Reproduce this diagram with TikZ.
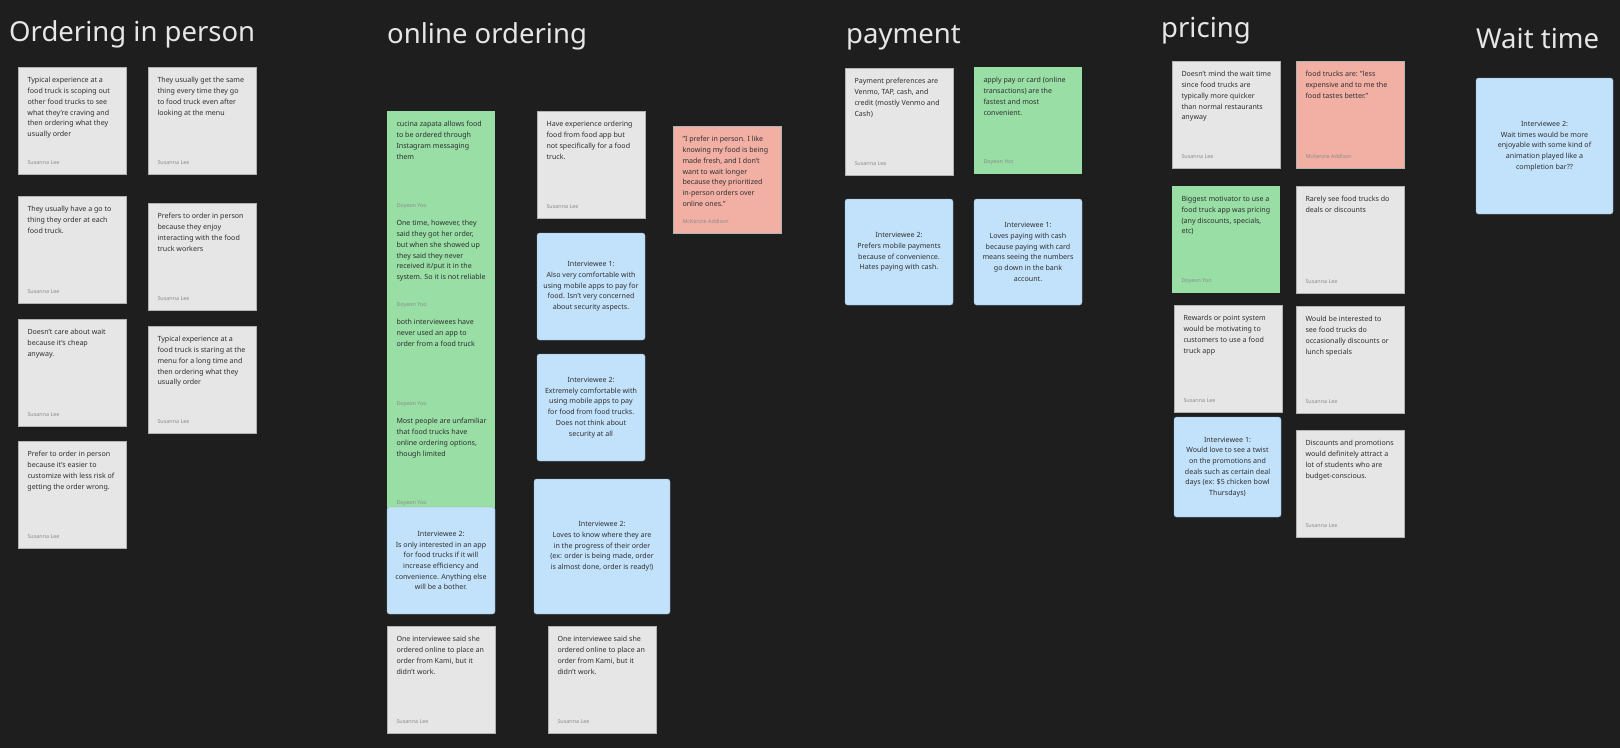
\documentclass[tikz,border=0pt]{standalone}
\usepackage{fontspec}
\setmainfont{Noto Sans}
\usetikzlibrary{positioning}

\definecolor{board}{HTML}{1E1E1E}
\definecolor{headgray}{HTML}{E6E6E6}
\definecolor{notegray}{HTML}{E6E6E6}
\definecolor{notegreen}{HTML}{98DEA5}
\definecolor{noteblue}{HTML}{C2E2FB}
\definecolor{notered}{HTML}{F2B0A5}
\definecolor{inktext}{HTML}{2E2E2E}
\definecolor{inkauthor}{HTML}{8C8C8C}

% body of a sticky note: text at the top, author at the bottom
\newcommand{\notetext}[2]{\parbox[c][107pt][t]{108pt}{\leftskip=9.5pt\rightskip=0pt plus 1fil\parindent=0pt
  \vspace*{10.5pt}#1\par\vfill{\color{inkauthor}\fontsize{5.4}{6}\selectfont #2\par}\vspace*{9.5pt}}}

\begin{document}
\begin{tikzpicture}[x=1pt,y=-1pt,
  note/.style={anchor=north west,inner sep=0pt,outer sep=0pt,text=inktext,font=\fontsize{7.1}{10.7}\selectfont},
  graynote/.style={note,fill=notegray,draw=black!30,line width=0.5pt},
  greennote/.style={note,fill=notegreen},
  rednote/.style={note,fill=notered,draw=black!30,line width=0.5pt},
  bluenote/.style={note,fill=noteblue,draw=noteblue!75!black,line width=0.4pt,rounded corners=2.5pt,
    align=center,minimum width=108pt,minimum height=107pt},
  heading/.style={anchor=base west,inner sep=0pt,text=headgray,font=\fontsize{27.5}{30}\selectfont}]
\fill [board] (0,0) rectangle (1620,748);

% headings
\node [heading] (hperson) at (9,41) {Ordering in person};
\node [heading] (honline) at (387,43) {online ordering};
\node [heading] (hpay) at (846,43) {payment};
\node [heading] (hprice) at (1161,37) {pricing};
\node [heading] (hwait) at (1476,48) {Wait time};

% ordering in person
\node [graynote] (o1) at (18,67) {\notetext{Typical experience at a\\food truck is scoping out\\other food trucks to see\\what they're craving and\\then ordering what they\\usually order}{Susanna Lee}};
\node [graynote] (o2) at (148,67) {\notetext{They usually get the same\\thing every time they go\\to food truck even after\\looking at the menu}{Susanna Lee}};
\node [graynote] (o3) at (18,196) {\notetext{They usually have a go to\\thing they order at each\\food truck.}{Susanna Lee}};
\node [graynote] (o4) at (148,203) {\notetext{Prefers to order in person\\because they enjoy\\interacting with the food\\truck workers}{Susanna Lee}};
\node [graynote] (o5) at (18,319) {\notetext{Doesn't care about wait\\because it's cheap\\anyway.}{Susanna Lee}};
\node [graynote] (o6) at (148,326) {\notetext{Typical experience at a\\food truck is staring at the\\menu for a long time and\\then ordering what they\\usually order}{Susanna Lee}};
\node [graynote] (o7) at (18,441) {\notetext{Prefer to order in person\\because it's easier to\\customize with less risk of\\getting the order wrong.}{Susanna Lee}};

% online ordering
\node [greennote] (n1) at (387,111) {\notetext{cucina zapata allows food\\to be ordered through\\Instagram messaging\\them}{Doyeon Yoo}};
\node [greennote] (n2) at (387,210) {\notetext{One time, however, they\\said they got her order,\\but when she showed up\\they said they never\\received it/put it in the\\system. So it is not reliable}{Doyeon Yoo}};
\node [greennote] (n3) at (387,309) {\notetext{both interviewees have\\never used an app to\\order from a food truck}{Doyeon Yoo}};
\node [greennote] (n4) at (387,408) {\notetext{Most people are unfamiliar\\that food trucks have\\online ordering options,\\though limited}{Doyeon Yoo}};
\node [bluenote] (n5) at (387,507) {Interviewee 2:\\Is only interested in an app\\for food trucks if it will\\increase efficiency and\\convenience. Anything else\\will be a bother.};
\node [graynote] (n6) at (537,111) {\notetext{Have experience ordering\\food from food app but\\not specifically for a food\\truck.}{Susanna Lee}};
\node [bluenote] (n7) at (537,233) {Interviewee 1:\\Also very comfortable with\\using mobile apps to pay for\\food. Isn't very concerned\\about security aspects.};
\node [bluenote] (n8) at (537,354) {Interviewee 2:\\Extremely comfortable with\\using mobile apps to pay\\for food from food trucks.\\Does not think about\\security at all};
\node [bluenote,minimum width=136pt,minimum height=135pt] (n9) at (534,479) {Interviewee 2:\\Loves to know where they are\\in the progress of their order\\(ex: order is being made, order\\is almost done, order is ready!)};
\node [graynote] (n10) at (387,626) {\notetext{One interviewee said she\\ordered online to place an\\order from Kami, but it\\didn't work.}{Susanna Lee}};
\node [graynote] (n11) at (548,626) {\notetext{One interviewee said she\\ordered online to place an\\order from Kami, but it\\didn't work.}{Susanna Lee}};
\node [rednote] (n12) at (673,126) {\notetext{"I prefer in person. I like\\knowing my food is being\\made fresh, and I don't\\want to wait longer\\because they prioritized\\in-person orders over\\online ones."}{McKenzie Addison}};

% payment
\node [graynote] (p1) at (845,68) {\notetext{Payment preferences are\\Venmo, TAP, cash, and\\credit (mostly Venmo and\\Cash)}{Susanna Lee}};
\node [greennote] (p2) at (974,67) {\notetext{apply pay or card (online\\transactions) are the\\fastest and most\\convenient.}{Doyeon Yoo}};
\node [bluenote,minimum height=106pt] (p3) at (845,199) {Interviewee 2:\\Prefers mobile payments\\because of convenience.\\Hates paying with cash.};
\node [bluenote,minimum height=106pt] (p4) at (974,199) {Interviewee 1:\\Loves paying with cash\\because paying with card\\means seeing the numbers\\go down in the bank\\account.};

% pricing
\node [graynote] (r1) at (1172,61) {\notetext{Doesn't mind the wait time\\since food trucks are\\typically more quicker\\than normal restaurants\\anyway}{Susanna Lee}};
\node [rednote] (r2) at (1296,61) {\notetext{food trucks are: "less\\expensive and to me the\\food tastes better."}{McKenzie Addison}};
\node [greennote] (r3) at (1172,186) {\notetext{Biggest motivator to use a\\food truck app was pricing\\(any discounts, specials,\\etc)}{Doyeon Yoo}};
\node [graynote] (r4) at (1296,186) {\notetext{Rarely see food trucks do\\deals or discounts}{Susanna Lee}};
\node [graynote] (r5) at (1174,305) {\notetext{Rewards or point system\\would be motivating to\\customers to use a food\\truck app}{Susanna Lee}};
\node [graynote] (r6) at (1296,306) {\notetext{Would be interested to\\see food trucks do\\occasionally discounts or\\lunch specials}{Susanna Lee}};
\node [bluenote,minimum width=107pt,minimum height=100pt] (r7) at (1174,417) {Interviewee 1:\\Would love to see a twist\\on the promotions and\\deals such as certain deal\\days (ex: \$5 chicken bowl\\Thursdays)};
\node [graynote] (r8) at (1296,430) {\notetext{Discounts and promotions\\would definitely attract a\\lot of students who are\\budget-conscious.}{Susanna Lee}};

% wait time
\node [bluenote,minimum width=137pt,minimum height=136pt] (w1) at (1476,78) {Interviewee 2:\\Wait times would be more\\enjoyable with some kind of\\animation played like a\\completion bar??};
\end{tikzpicture}
\end{document}
